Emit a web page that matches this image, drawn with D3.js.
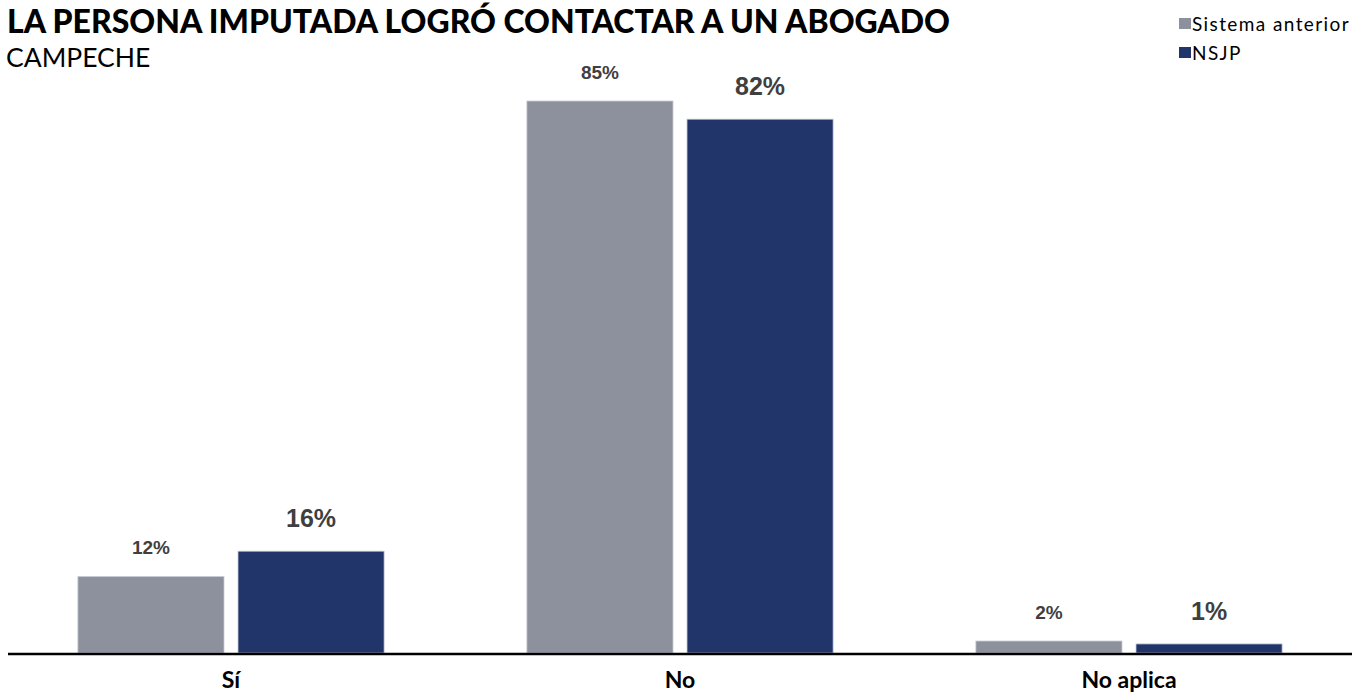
<!DOCTYPE html>
<head>
  <meta charset="utf-8">
  <style>
    body { margin:0; background:#fff; }
    text { font-family: Lato, "Open Sans", sans-serif; }
    .val { font-family: "Liberation Sans", Arial, sans-serif; font-weight:bold; fill:#3f3f3f; }
  </style>
</head>
<body>
  <script src="https://d3js.org/d3.v7.min.js"></script>
  <script>

    // DATA
    var categories = ["Sí", "No", "No aplica"];
    var seriesNames = ["Sistema anterior", "NSJP"];
    var anterior = [11.8, 85.1, 1.85];
    var nsjp = [15.7, 82.3, 1.4];
    var labelsAnterior = ["12%", "85%", "2%"];
    var labelsNsjp = ["16%", "82%", "1%"];

    var width = 1361, height = 692;
    var baseY = 653;
    var colors = ["#8d919d", "#21356b"];

    var svg = d3.select("body").append("svg")
      .attr("width", width)
      .attr("height", height);

    // SCALES
    var x0 = d3.scaleBand()
      .domain(categories)
      .range([6.5, 1353.5])
      .paddingInner(0.318)
      .paddingOuter(0.159);

    var x1 = d3.scaleBand()
      .domain(seriesNames)
      .range([0, x0.bandwidth()])
      .paddingInner(0.0875);

    var y = d3.scaleLinear()
      .domain([0, 85.1])
      .range([baseY, 101]);

    var rows = categories.map(function(c, i) {
      return [
        { cat: c, s: seriesNames[0], v: anterior[i], label: labelsAnterior[i] },
        { cat: c, s: seriesNames[1], v: nsjp[i], label: labelsNsjp[i] }
      ];
    });

    // BARS
    var groups = svg.selectAll("g.grp")
      .data(rows)
      .enter().append("g")
        .attr("class", "grp")
        .attr("transform", function(d, i) { return "translate(" + x0(categories[i]) + ",0)"; });

    groups.selectAll("rect")
      .data(function(d) { return d; })
      .enter().append("rect")
        .attr("x", function(d) { return x1(d.s); })
        .attr("y", function(d) { return y(d.v); })
        .attr("width", x1.bandwidth())
        .attr("height", function(d) { return baseY - y(d.v); })
        .attr("fill", function(d, i) { return colors[i]; })
        .attr("stroke", "#c9ccd6")
        .attr("stroke-width", 0.8);

    // value labels
    groups.selectAll("text.val")
      .data(function(d) { return d; })
      .enter().append("text")
        .attr("class", "val")
        .attr("x", function(d) { return x1(d.s) + x1.bandwidth() / 2; })
        .attr("y", function(d, i) { return y(d.v) - (i === 0 ? 22 : 24); })
        .attr("text-anchor", "middle")
        .style("font-size", function(d, i) { return i === 0 ? "19px" : "25px"; })
        .text(function(d) { return d.label; });

    // AXIS
    var xAxis = d3.axisBottom(x0).tickSize(0).tickPadding(0);
    var ax = svg.append("g")
      .attr("transform", "translate(0," + (baseY + 1) + ")")
      .call(xAxis);
    ax.select(".domain").remove();
    ax.append("line")
      .attr("x1", 8).attr("x2", 1352)
      .attr("y1", 0).attr("y2", 0)
      .attr("stroke", "#000")
      .attr("stroke-width", 2.5);
    ax.selectAll(".tick text")
      .attr("fill", "#000")
      .attr("y", 34)
      .attr("dy", null)
      .style("font-family", "Lato, sans-serif")
      .style("font-weight", "bold")
      .style("font-size", "23px");

    // TITLE
    svg.append("text")
      .attr("x", 7).attr("y", 33)
      .style("font-size", "32px")
      .style("font-weight", 900)
      .attr("fill", "#000")
      .attr("textLength", 943)
      .attr("lengthAdjust", "spacingAndGlyphs")
      .text("LA PERSONA IMPUTADA LOGRÓ CONTACTAR A UN ABOGADO");

    svg.append("text")
      .attr("x", 6).attr("y", 67)
      .style("font-size", "26.5px")
      .attr("fill", "#000")
      .text("CAMPECHE");

    // LEGEND
    var leg = svg.selectAll("g.leg")
      .data(seriesNames)
      .enter().append("g")
        .attr("class", "leg")
        .attr("transform", function(d, i) { return "translate(1179," + (18 + i * 29) + ")"; });
    leg.append("rect")
      .attr("width", 12).attr("height", 11)
      .attr("fill", function(d, i) { return colors[i]; });
    leg.append("text")
      .attr("x", 13).attr("y", 13)
      .style("font-size", "19px")
      .style("letter-spacing", "1.4px")
      .attr("fill", "#000")
      .text(function(d) { return d; });

  </script>
</body>
